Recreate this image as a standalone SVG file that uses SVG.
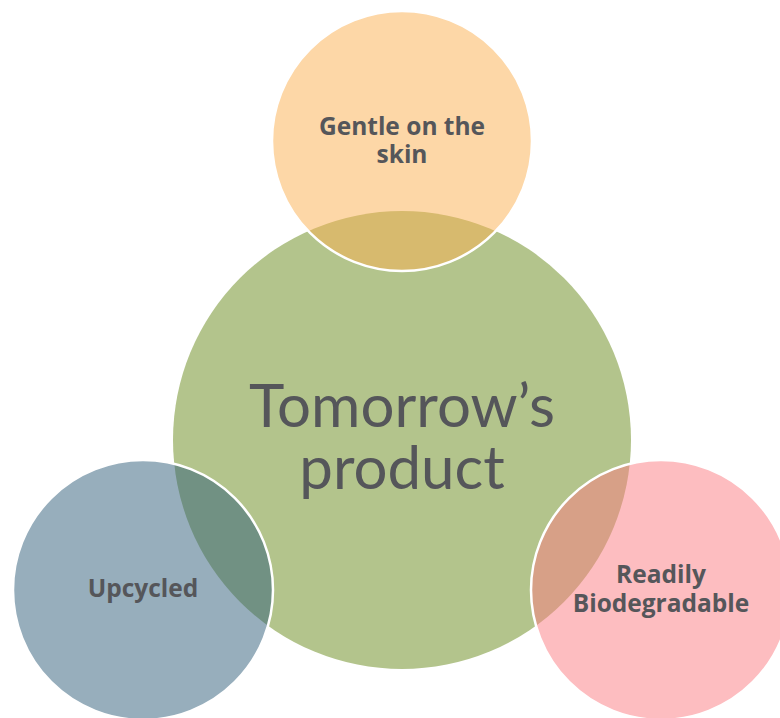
<svg xmlns="http://www.w3.org/2000/svg" width="780" height="718" viewBox="0 0 780 718">
<style>
.lbl{font-family:"Open Sans","DejaVu Sans",sans-serif;font-weight:bold;font-size:24.5px;fill:#55565A;text-anchor:middle}
.main{font-family:Lato,"Liberation Sans",sans-serif;font-size:60px;fill:#55565A;text-anchor:middle}
.sat{stroke:#FFFFFF;stroke-width:2.5;fill-opacity:0.5}
</style>
<rect width="780" height="718" fill="#FFFFFF"/>
<g id="center">
<circle cx="402" cy="440" r="229" fill="#B3C48C"/>
<text class="main" x="402" y="427">Tomorrow’s<tspan x="402" y="489">product</tspan></text>
</g>
<g id="top">
<circle class="sat" cx="402" cy="141" r="130" fill="#FBAF4F"/>
<text class="lbl" x="402" y="135">Gentle on the<tspan x="402" y="163">skin</tspan></text>
</g>
<g id="left">
<circle class="sat" cx="143" cy="590" r="130" fill="#2F5D79"/>
<text class="lbl" x="143" y="597">Upcycled</text>
</g>
<g id="right">
<circle class="sat" cx="661" cy="590" r="130" fill="#FB7B81"/>
<text class="lbl" x="661" y="583">Readily<tspan x="661" y="612">Biodegradable</tspan></text>
</g>
<g id="connectors"></g>
</svg>
